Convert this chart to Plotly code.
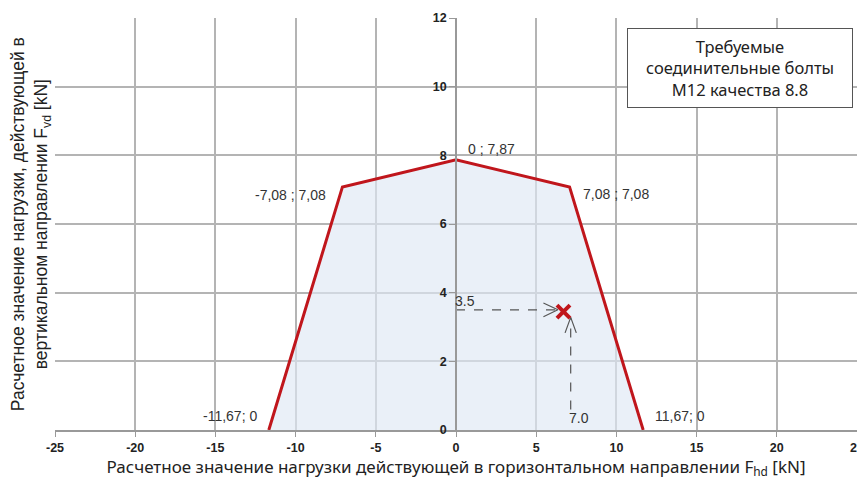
import plotly.graph_objects as go

# --- data ---
env_x = [-11.67, -7.08, 0.0, 7.08, 11.67]
env_y = [0.0, 7.08, 7.87, 7.08, 0.0]
env_labels = ["-11,67; 0", "-7,08 ; 7,08", "0 ; 7,87", "7,08 ; 7,08", "11,67; 0"]

load_x = 7.0
load_y = 3.5
marker_x = 6.7   # where the cross is drawn in the picture
marker_y = 3.45

x_ticks = [-25, -20, -15, -10, -5, 0, 5, 10, 15, 20, 25]
y_ticks = [0, 2, 4, 6, 8, 10, 12]

box_text = "Требуемые<br>соединительные болты<br>M12 качества 8.8"
x_title = "Расчетное значение нагрузки действующей в горизонтальном направлении F<sub>hd</sub> [kN]"
y_title = "Расчетное значение нагрузки, действующей в<br>вертикальном направлении F<sub>vd</sub> [kN]"

RED = "#c0161c"
GRID = "#b4b4b4"
DASH = "#555555"

fig = go.Figure()

# envelope (filled)
fig.add_trace(go.Scatter(
    x=env_x, y=env_y, mode="lines",
    line=dict(color=RED, width=3),
    fill="toself", fillcolor="rgba(222,232,244,0.65)",
    hoverinfo="skip", showlegend=False
))

# dashed guide lines to the load point
fig.add_trace(go.Scatter(
    x=[0, marker_x - 0.35], y=[load_y, load_y], mode="lines",
    line=dict(color=DASH, width=1.2, dash="dash"), showlegend=False
))
fig.add_trace(go.Scatter(
    x=[load_x + 0.15, load_x + 0.15], y=[0.6, marker_y - 0.17], mode="lines",
    line=dict(color=DASH, width=1.2, dash="dash"), showlegend=False
))
# open arrow heads
hx = marker_x - 0.35
fig.add_trace(go.Scatter(
    x=[hx - 0.9, hx, hx - 0.9], y=[load_y + 0.2, load_y, load_y - 0.2], mode="lines",
    line=dict(color=DASH, width=1.2), showlegend=False
))
vx, vy = load_x + 0.15, marker_y - 0.17
fig.add_trace(go.Scatter(
    x=[vx - 0.35, vx, vx + 0.35], y=[vy - 0.45, vy, vy - 0.45], mode="lines",
    line=dict(color=DASH, width=1.2), showlegend=False
))

# load point
fig.add_trace(go.Scatter(
    x=[marker_x], y=[marker_y], mode="markers",
    marker=dict(symbol="x-thin", size=13, line=dict(color=RED, width=4)),
    showlegend=False
))

# vertex labels
lab_font = dict(family="Liberation Sans, Arial", size=14, color="#333333")
offsets = [(-10, 14, "right"), (-14, -8, "right"), (10, 11, "left"), (11, -7, "left"), (10, 14, "left")]
for (x, y, t, (xs, ys, anc)) in zip(env_x, env_y, env_labels, offsets):
    fig.add_annotation(x=x, y=y, text=t, showarrow=False, xanchor=anc, yanchor="middle",
                       xshift=xs, yshift=ys, font=lab_font)

fig.add_annotation(x=0, y=load_y, text=f"{load_y:.1f}", showarrow=False, xanchor="left",
                   yanchor="middle", xshift=-3, yshift=9, font=lab_font)
fig.add_annotation(x=load_x, y=0, text=f"{load_x:.1f}", showarrow=False, xanchor="left",
                   yanchor="middle", xshift=-1, yshift=12, font=lab_font)

# info box
fig.add_annotation(xref="paper", yref="paper", x=0.995, y=0.976, xanchor="right", yanchor="top",
                   text=box_text, showarrow=False, align="center", width=212,
                   font=dict(family="Noto Sans, Open Sans", size=16.5, color="#222222"),
                   bgcolor="white", bordercolor="#555555", borderwidth=1, borderpad=6)

tick_font = dict(family="Liberation Sans, Arial", size=12.5, color="#222222")
# page body adds an 8px offset, so the figure is sized to fit inside the window
fig.update_layout(
    width=857, height=472,
    plot_bgcolor="white", paper_bgcolor="white",
    margin=dict(l=47, r=8, t=10, b=50),
    xaxis=dict(
        range=[-25, 25], tickvals=x_ticks, ticktext=[f"<b>{v}</b>" for v in x_ticks],
        showgrid=True, gridcolor=GRID, gridwidth=1.5, zeroline=False,
        showline=True, linecolor="#999999", linewidth=1.5,
        ticks="outside", ticklen=5, tickcolor="#999999",
        tickfont=tick_font, automargin=False, ticklabeloverflow="allow",
        title=dict(text=x_title, font=dict(family="Noto Sans, Open Sans", size=17, color="#222222"),
                   standoff=2),
    ),
    yaxis=dict(
        range=[0, 12], tickvals=y_ticks, ticktext=[f"<b>{v}</b>" for v in y_ticks],
        anchor="free", position=0.5,
        showgrid=True, gridcolor=GRID, gridwidth=1.5, zeroline=False,
        showline=True, linecolor="#999999", linewidth=1.5,
        ticks="outside", ticklen=6, tickcolor="#999999",
        tickfont=tick_font, automargin=False,
    ),
)

# vertical axis title sits at the left edge
fig.add_annotation(xref="paper", yref="paper", x=-0.031, y=0.5, text=y_title, textangle=-90,
                   showarrow=False, xanchor="center", yanchor="middle", align="center",
                   font=dict(family="Liberation Sans, Arial", size=17.5, color="#222222"))

fig.write_html("out.html")
